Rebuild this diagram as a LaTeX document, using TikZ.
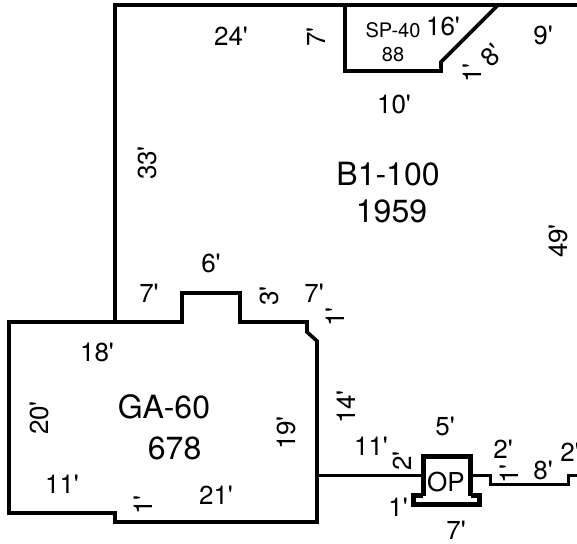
\documentclass[tikz,border=0pt]{standalone}
\usepackage{fontspec}
\newfontfamily\hv{TeX Gyre Heros}
\tikzset{
 wall/.style={draw=black,line width=3.6pt,line join=miter},
 thin wall/.style={draw=black,line width=3pt},
 op wall/.style={draw=black,line width=5pt,line join=miter},
 dim/.style={font=\hv\fontsize{26}{26}\selectfont,inner sep=0pt,text=black},
 big/.style={font=\hv\fontsize{32}{37}\selectfont,inner sep=0pt,text=black},
 small/.style={font=\hv\fontsize{20}{24}\selectfont,inner sep=0pt,align=center,text=black},
 oplabel/.style={font=\hv\fontsize{26}{26}\selectfont,inner sep=0pt,text=black}
}
\begin{document}
\begin{tikzpicture}[x=1pt,y=-1pt]
\useasboundingbox (0,0) rectangle (577,543);
% main building
\draw[wall] (577,5) -- (115,5) -- (115,322);
\draw[wall] (345,5) -- (345,71) -- (441,71) -- (441,62) -- (498,5);
% garage
\draw[wall] (9,322) -- (182,322) -- (182,293) -- (240,293) -- (240,322) -- (307,322) -- (307,332) -- (317,341) -- (317,522) -- (115,522) -- (115,513) -- (9,513) -- cycle;
% right side
\draw[thin wall] (317,475) -- (422,475);
\draw[thin wall] (471,475) -- (490,475) -- (490,484.5) -- (568,484.5) -- (568,475) -- (577,475);
\draw[op wall] (423,495.5) -- (423,456.5) -- (470.5,456.5) -- (470.5,495.5);
\draw[op wall] (423,495.5) -- (413.5,495.5) -- (413.5,504.5) -- (479.5,504.5) -- (479.5,495.5) -- (470.5,495.5);
% labels
\node[big,align=center] (b1) at (388,193) {B1-100\\\hspace*{7pt}1959};
\node[big,align=left] (ga) at (164,427.5) {GA-60\\[4pt]\hspace*{30pt}678};
\node[small] (sp) at (393,42) {SP-40\\88};
\node[oplabel] (op) at (446,482.5) {OP};
\node[dim] (d1) at (231,36) {24'};
\node[dim,rotate=90] (d2) at (316,37) {7'};
\node[dim] (d3) at (443,26) {16'};
\node[dim,rotate=45] (d4) at (492,55) {8'};
\node[dim] (d5) at (543,35) {9'};
\node[dim,rotate=90] (d6) at (472,73) {1'};
\node[dim] (d7) at (394,104) {10'};
\node[dim,rotate=90] (d8) at (147,163) {33'};
\node[dim,rotate=90] (d9) at (558,241) {49'};
\node[dim] (d10) at (211,263) {6'};
\node[dim] (d11) at (149,293) {7'};
\node[dim,rotate=90] (d12) at (269,296) {3'};
\node[dim] (d13) at (314,293) {7'};
\node[dim,rotate=90] (d14) at (335,317) {1'};
\node[dim] (d15) at (97,352) {18'};
\node[dim,rotate=90] (d16) at (39,418) {20'};
\node[dim,rotate=90] (d17) at (286,433) {19'};
\node[dim,rotate=90] (d18) at (346,407) {14'};
\node[dim] (d19) at (371,446) {11'};
\node[dim,rotate=90] (d20) at (402,461) {2'};
\node[dim] (d21) at (445,426) {5'};
\node[dim] (d22) at (503,449) {2'};
\node[dim,rotate=90] (d23) at (509,474) {1'};
\node[dim] (d24) at (543,470) {8'};
\node[dim] (d25) at (570,452) {2'};
\node[dim] (d26) at (398,507) {1'};
\node[dim] (d27) at (456,530) {7'};
\node[dim] (d28) at (62,484) {11'};
\node[dim,rotate=90] (d29) at (143,505) {1'};
\node[dim] (d30) at (216,495) {21'};
\end{tikzpicture}
\end{document}
